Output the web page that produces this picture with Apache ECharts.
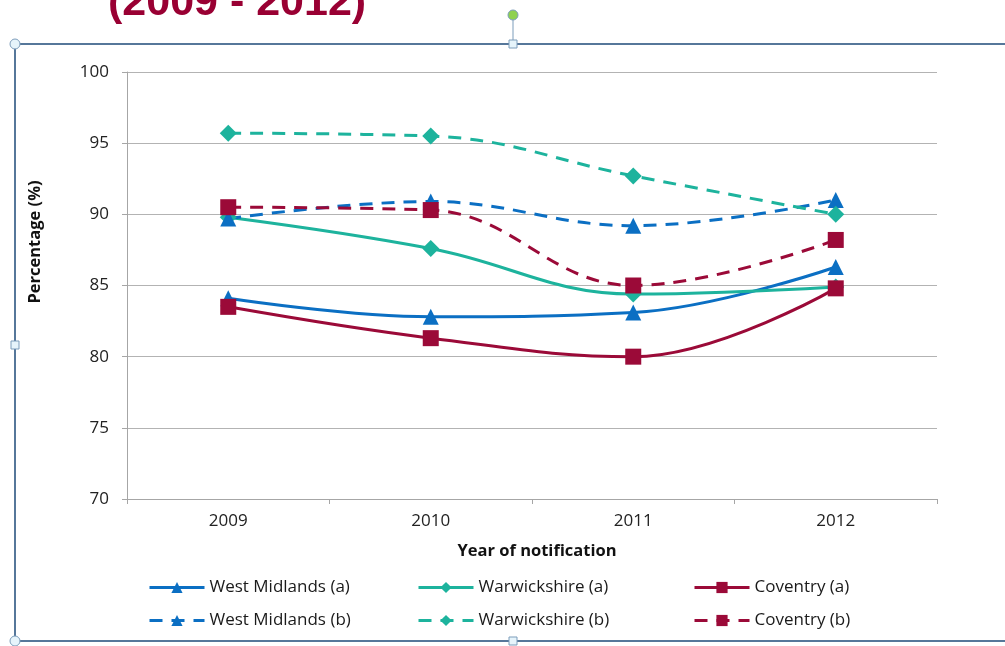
<!DOCTYPE html>
<html>
<head>
<meta charset="utf-8">
<script src="https://cdn.jsdelivr.net/npm/echarts@6/dist/echarts.min.js"></script>
<style>
html,body{margin:0;padding:0;background:#fff;}
#main{width:1005px;height:646px;}
</style>
</head>
<body>
<div id="main"></div>
<script>
// ---- data ----
var years = ['2009', '2010', '2011', '2012'];
var westMidlandsA = [84.1, 82.8, 83.1, 86.3];
var warwickshireA = [89.8, 87.6, 84.4, 84.9];
var coventryA = [83.5, 81.3, 80.0, 84.8];
var westMidlandsB = [89.7, 90.9, 89.2, 91.0];
var warwickshireB = [95.7, 95.5, 92.7, 90.0];
var coventryB = [90.5, 90.3, 85.0, 88.2];
var seriesNames = ['West Midlands (a)', 'Warwickshire (a)', 'Coventry (a)',
                   'West Midlands (b)', 'Warwickshire (b)', 'Coventry (b)'];
var titleText = '(2009 - 2012)';
var yAxisTitle = 'Percentage (%)';
var xAxisTitle = 'Year of notification';

var cWM = '#0b6fc3', cWA = '#1db39d', cCO = '#9b0a38';
var font = '"Open Sans", "Liberation Sans", sans-serif';

function mk(name, data, color, symbol, size, dashed) {
  return {
    name: name, type: 'line', data: data, smooth: 0.4,
    symbol: symbol, symbolSize: size,
    itemStyle: { color: color },
    lineStyle: { color: color, width: 3, type: dashed ? [13, 9] : 'solid' },
    emphasis: { disabled: true }
  };
}

var legendPos = [
  [148, 579], [417, 579], [693, 579],
  [148, 612], [417, 612], [693, 612]
];
var legends = seriesNames.map(function (n, i) {
  return {
    data: [n], left: legendPos[i][0], top: legendPos[i][1], padding: 0,
    itemWidth: 55, itemHeight: 14, itemGap: 0,
    lineStyle: { width: 3 },
    textStyle: { fontFamily: font, fontSize: 17, color: '#1a1a1a' },
    selectedMode: false
  };
});

var frameColor = '#56779a';
var handleStroke = '#7d9dbb';
function sq(x, y) {
  return { type: 'rect', shape: { x: x - 4, y: y - 4, width: 8, height: 8 },
           style: { fill: '#e6f4fb', stroke: handleStroke, lineWidth: 1 }, z: 100 };
}
function circ(x, y, fill) {
  return { type: 'circle', shape: { cx: x, cy: y, r: 5 },
           style: { fill: fill || '#e6f4fb', stroke: handleStroke, lineWidth: 1 }, z: 100 };
}

var option = {
  animation: false,
  backgroundColor: '#fff',
  grid: { left: 127, right: 68, top: 72, bottom: 147, containLabel: false },
  legend: legends,
  xAxis: {
    type: 'category', data: years, boundaryGap: true,
    axisLine: { lineStyle: { color: '#a6a6a6', width: 1 } },
    axisTick: { show: true, length: 5, lineStyle: { color: '#a6a6a6' } },
    axisLabel: { fontFamily: font, fontSize: 17, color: '#222', margin: 14 },
    splitLine: { show: false }
  },
  yAxis: {
    type: 'value', min: 70, max: 100, interval: 5,
    axisLine: { show: true, lineStyle: { color: '#a6a6a6', width: 1 } },
    axisTick: { show: true, length: 5, lineStyle: { color: '#a6a6a6' } },
    axisLabel: { fontFamily: font, fontSize: 17, color: '#222', margin: 18 },
    splitLine: { lineStyle: { color: '#b3b3b3', width: 1 } }
  },
  series: [
    mk(seriesNames[0], westMidlandsA, cWM, 'triangle', 16, false),
    mk(seriesNames[1], warwickshireA, cWA, 'diamond', 17, false),
    mk(seriesNames[2], coventryA, cCO, 'rect', 16, false),
    mk(seriesNames[3], westMidlandsB, cWM, 'triangle', 16, true),
    mk(seriesNames[4], warwickshireB, cWA, 'diamond', 17, true),
    mk(seriesNames[5], coventryB, cCO, 'rect', 16, true)
  ],
  graphic: [
    { type: 'text', left: 108, top: -18, z: 50,
      style: { text: titleText, fontFamily: '"Liberation Sans", Arial, sans-serif',
               fontWeight: 'bold', fontSize: 43, fill: '#990033' } },
    { type: 'text', x: 35, y: 242, rotation: Math.PI / 2, z: 50,
      style: { text: yAxisTitle, fontFamily: font, fontWeight: 'bold', fontSize: 16.5,
               fill: '#111', align: 'center', verticalAlign: 'middle' } },
    { type: 'text', x: 537, y: 551, z: 50,
      style: { text: xAxisTitle, fontFamily: font, fontWeight: 'bold', fontSize: 16.5,
               fill: '#111', align: 'center', verticalAlign: 'middle' } },
    // frame of the embedded chart object
    { type: 'line', shape: { x1: 15, y1: 44, x2: 1005, y2: 44 }, style: { stroke: frameColor, lineWidth: 2 }, z: 90 },
    { type: 'line', shape: { x1: 15, y1: 44, x2: 15, y2: 641 }, style: { stroke: frameColor, lineWidth: 2 }, z: 90 },
    { type: 'line', shape: { x1: 15, y1: 641, x2: 1005, y2: 641 }, style: { stroke: frameColor, lineWidth: 2 }, z: 90 },
    { type: 'line', shape: { x1: 513, y1: 20, x2: 513, y2: 40 }, style: { stroke: handleStroke, lineWidth: 1 }, z: 90 },
    circ(15, 44), sq(513, 44), circ(513, 15, '#8fd14f'), sq(15, 345), circ(15, 641), sq(513, 641)
  ]
};

var chart = echarts.init(document.getElementById('main'), null, { renderer: 'canvas' });
chart.setOption(option);
</script>
</body>
</html>
